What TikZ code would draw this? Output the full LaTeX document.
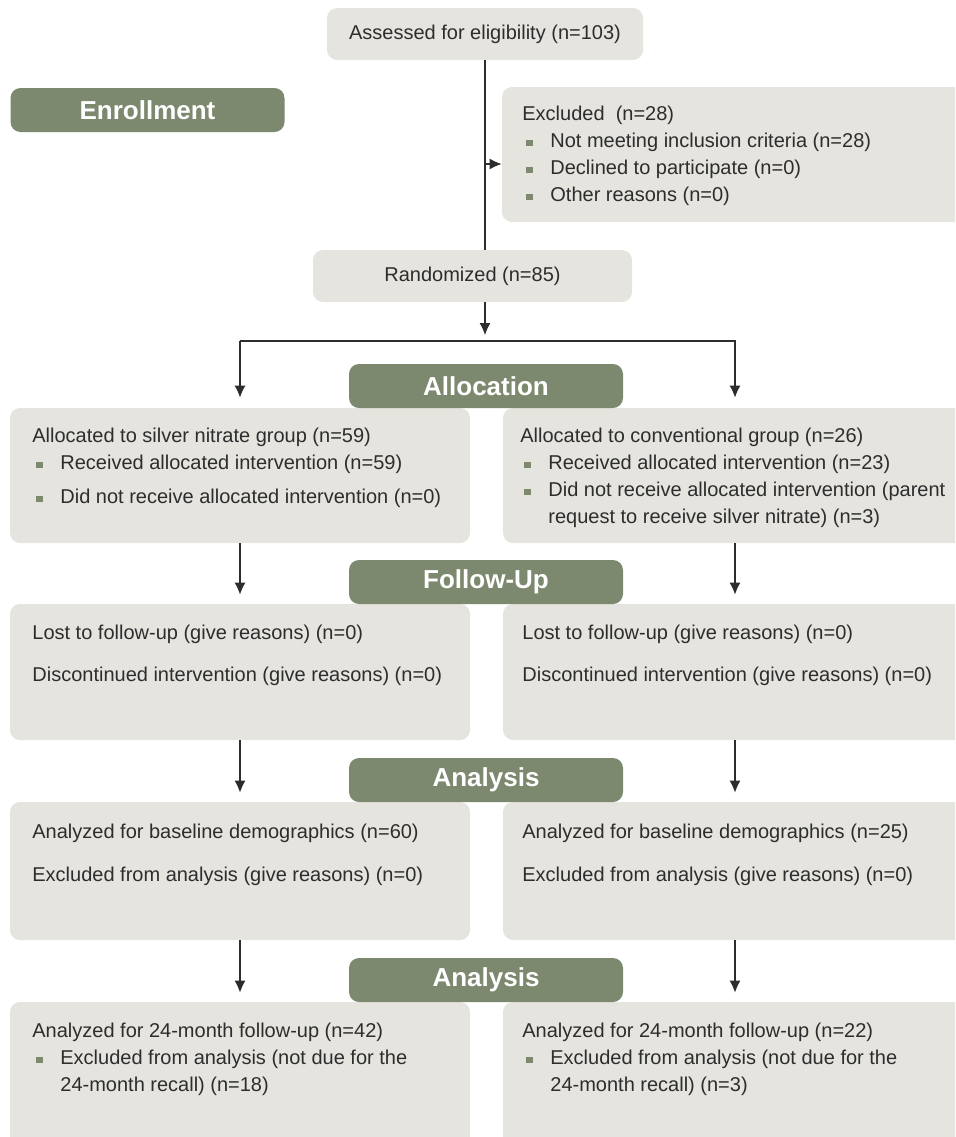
\documentclass[tikz,border=0pt]{standalone}
\usepackage{fontspec}
\setmainfont{Liberation Sans}
\usetikzlibrary{arrows.meta}
\definecolor{boxgray}{RGB}{229,228,223}
\definecolor{hdrgreen}{RGB}{125,137,110}
\definecolor{txtgray}{RGB}{45,45,45}
\newcommand{\sqb}{\textcolor{hdrgreen}{\rule[0.8pt]{3.4pt}{3.4pt}}}
\newcommand{\bitem}[1]{\makebox[14pt][l]{\hspace{2pt}\sqb}#1}
\newcommand{\bcont}[1]{\hspace*{14pt}#1}

\begin{document}
\begin{tikzpicture}[x=0.5pt,y=-0.5pt,
    every node/.style={font=\fontsize{10}{13.5}\selectfont,text=txtgray},
    panel/.style={fill=boxgray,rounded corners=5pt,inner sep=0pt},
    header/.style={fill=hdrgreen,rounded corners=5pt,minimum width=137pt,minimum height=22pt,
      text=white,font=\fontsize{13}{15}\selectfont\bfseries},
    label/.style={anchor=north west,inner sep=0pt,align=left},
    link/.style={line width=0.6pt,draw=txtgray},
    arr/.style={link,-{Latex[length=6pt,width=5.5pt]}}]
    \useasboundingbox (0,0) rectangle (955,1137);
    \clip (0,0) rectangle (955,1137);

    \node[panel,minimum width=158pt,minimum height=26pt] (assess) at (485,34) {Assessed for eligibility (n=103)};
    \node[panel,minimum width=159.5pt,minimum height=26pt] (rand) at (472.5,276) {Randomized (n=85)};
    \node[panel,minimum width=236.5pt,minimum height=67.5pt] (excl) at (738.5,154.5) {};

    \node[panel,minimum width=230pt,minimum height=67.5pt] (L1) at (240,475.5) {};
    \node[panel,minimum width=236pt,minimum height=67.5pt] (R1) at (739,475.5) {};
    \node[panel,minimum width=230pt,minimum height=68pt] (L2) at (240,672) {};
    \node[panel,minimum width=236pt,minimum height=68pt] (R2) at (739,672) {};
    \node[panel,minimum width=230pt,minimum height=69pt] (L3) at (240,871) {};
    \node[panel,minimum width=236pt,minimum height=69pt] (R3) at (739,871) {};
    \node[panel,minimum width=230pt,minimum height=79pt] (L4) at (240,1081) {};
    \node[panel,minimum width=236pt,minimum height=79pt] (R4) at (739,1081) {};

    \node[header] (enroll) at (147.5,110) {Enrollment};
    \node[header] (alloc) at (486,386) {Allocation};
    \node[header] (follow) at (486,582) {Follow-Up};
    \node[header] (anal1) at (486,780) {Analysis};
    \node[header] (anal2) at (486,980) {Analysis};

    \node[label] (exclt) at (522,106) {Excluded\ \ (n=28)\\
      \bitem{Not meeting inclusion criteria (n=28)}\\
      \bitem{Declined to participate (n=0)}\\
      \bitem{Other reasons (n=0)}};

    \node[label] (L1t) at (32,428) {Allocated to silver nitrate group (n=59)\\
      \bitem{Received allocated intervention (n=59)}\\[3.5pt]
      \bitem{Did not receive allocated intervention (n=0)}};
    \node[label] (R1t) at (520,428) {Allocated to conventional group (n=26)\\
      \bitem{Received allocated intervention (n=23)}\\
      \bitem{Did not receive allocated intervention (parent}\\
      \bcont{request to receive silver nitrate) (n=3)}};

    \node[label] (L2t) at (32,625) {Lost to follow-up (give reasons) (n=0)\\[7.5pt]
      Discontinued intervention (give reasons) (n=0)};
    \node[label] (R2t) at (522,625) {Lost to follow-up (give reasons) (n=0)\\[7.5pt]
      Discontinued intervention (give reasons) (n=0)};

    \node[label] (L3t) at (32,824) {Analyzed for baseline demographics (n=60)\\[8pt]
      Excluded from analysis (give reasons) (n=0)};
    \node[label] (R3t) at (522,824) {Analyzed for baseline demographics (n=25)\\[8pt]
      Excluded from analysis (give reasons) (n=0)};

    \node[label] (L4t) at (32,1023) {Analyzed for 24-month follow-up (n=42)\\
      \bitem{Excluded from analysis (not due for the}\\
      \bcont{24-month recall) (n=18)}};
    \node[label] (R4t) at (522,1023) {Analyzed for 24-month follow-up (n=22)\\
      \bitem{Excluded from analysis (not due for the}\\
      \bcont{24-month recall) (n=3)}};

    \coordinate (colL) at (240,0);
    \coordinate (colR) at (735,0);
    \coordinate (exarr) at (485,164);
    \coordinate (randtip) at (485,335);
    \coordinate (brL) at (240,341);
    \coordinate (brR) at (735,341);

    \draw[link] (assess.south) -- (rand.north -| assess.south);
    \draw[arr] (exarr) -- (excl.west |- exarr);
    \draw[arr] (rand.south -| assess.south) -- (randtip);
    \draw[arr,shorten >=5pt] (brL) -- (L1.north -| brL);
    \draw[arr,shorten >=5pt] (brL) -- (brR) -- (R1.north -| brR);
    \foreach \a/\b in {1/2,2/3,3/4} {
      \draw[arr,shorten >=4.5pt] (L\a.south -| colL) -- (L\b.north -| colL);
      \draw[arr,shorten >=4.5pt] (R\a.south -| colR) -- (R\b.north -| colR);
    }
  \end{tikzpicture}
\end{document}
